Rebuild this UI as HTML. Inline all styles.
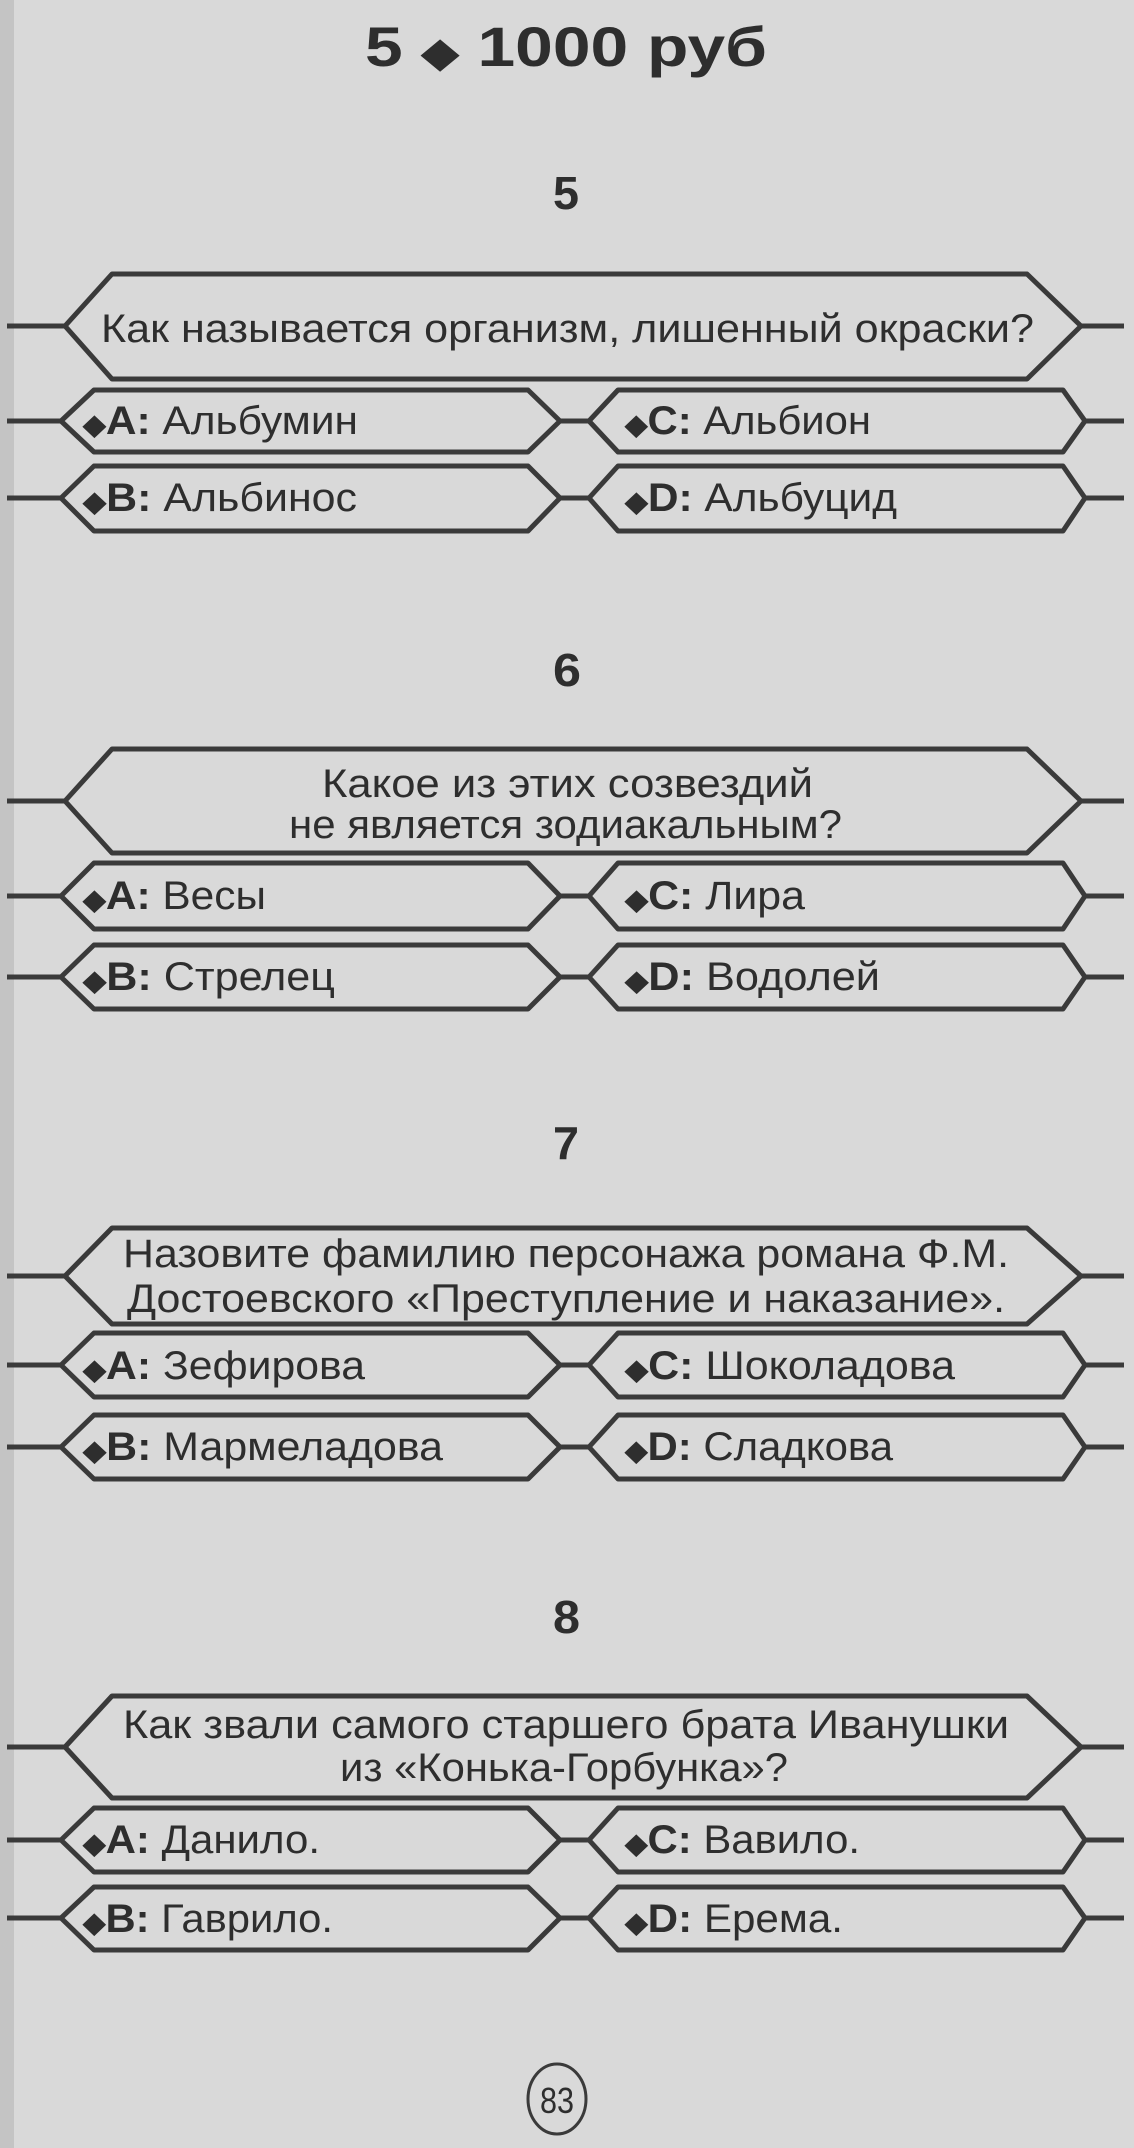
<!DOCTYPE html>
<html><head><meta charset="utf-8"><style>
html,body{margin:0;padding:0;background:#d8d8d8;}
svg{display:block;}
text{font-family:"Liberation Sans",sans-serif;fill:#2e2e2e;}
.b{font-weight:bold;}
.d{font-size:28px;}
</style></head><body>
<svg width="1134" height="2148" viewBox="0 0 1134 2148" xmlns="http://www.w3.org/2000/svg">
<rect width="1134" height="2148" fill="#d9d9d9"/>
<rect width="14" height="2148" fill="#c4c4c4"/>
<g fill="none" stroke="#3a3a3a" stroke-width="5" stroke-linejoin="round">
<path d="M7,326 H65 L112,274 H1027 L1081,326 H1124 M65,326 L112,379 H1027 L1081,326"/>
<path d="M7,421 H61 L94,390 H528 L560,421 H589 L618,390 H1063 L1085,421 H1124 M61,421 L94,452 H528 L560,421 M589,421 L618,452 H1063 L1085,421"/>
<path d="M7,498 H61 L94,466 H528 L560,498 H589 L618,466 H1063 L1085,498 H1124 M61,498 L94,531 H528 L560,498 M589,498 L618,531 H1063 L1085,498"/>
<path d="M7,801 H65 L112,749 H1027 L1081,801 H1124 M65,801 L112,853 H1027 L1081,801"/>
<path d="M7,896 H61 L94,863 H528 L560,896 H589 L618,863 H1063 L1085,896 H1124 M61,896 L94,929 H528 L560,896 M589,896 L618,929 H1063 L1085,896"/>
<path d="M7,977 H61 L94,945 H528 L560,977 H589 L618,945 H1063 L1085,977 H1124 M61,977 L94,1009 H528 L560,977 M589,977 L618,1009 H1063 L1085,977"/>
<path d="M7,1276 H65 L112,1228 H1027 L1081,1276 H1124 M65,1276 L112,1324 H1027 L1081,1276"/>
<path d="M7,1365 H61 L94,1333 H528 L560,1365 H589 L618,1333 H1063 L1085,1365 H1124 M61,1365 L94,1397 H528 L560,1365 M589,1365 L618,1397 H1063 L1085,1365"/>
<path d="M7,1447 H61 L94,1415 H528 L560,1447 H589 L618,1415 H1063 L1085,1447 H1124 M61,1447 L94,1479 H528 L560,1447 M589,1447 L618,1479 H1063 L1085,1447"/>
<path d="M7,1747 H65 L112,1696 H1027 L1081,1747 H1124 M65,1747 L112,1798 H1027 L1081,1747"/>
<path d="M7,1840 H61 L94,1808 H528 L560,1840 H589 L618,1808 H1063 L1085,1840 H1124 M61,1840 L94,1872 H528 L560,1840 M589,1840 L618,1872 H1063 L1085,1840"/>
<path d="M7,1918 H61 L94,1887 H528 L560,1918 H589 L618,1887 H1063 L1085,1918 H1124 M61,1918 L94,1950 H528 L560,1918 M589,1918 L618,1950 H1063 L1085,1918"/>
<ellipse cx="557" cy="2099" rx="29" ry="35" stroke-width="3"/>
</g>
<text x="365" y="66" font-size="56" class="b" textLength="402" lengthAdjust="spacingAndGlyphs">5 <tspan font-size="40">◆</tspan> 1000 руб</text>
<text x="553" y="209" font-size="46" class="b" textLength="26" lengthAdjust="spacingAndGlyphs">5</text>
<text x="553" y="686" font-size="46" class="b" textLength="28" lengthAdjust="spacingAndGlyphs">6</text>
<text x="553" y="1159" font-size="46" class="b" textLength="26" lengthAdjust="spacingAndGlyphs">7</text>
<text x="553" y="1633" font-size="46" class="b" textLength="27" lengthAdjust="spacingAndGlyphs">8</text>

<g font-size="40">
<text x="101" y="342" textLength="933" lengthAdjust="spacingAndGlyphs">Как называется организм, лишенный окраски?</text>
<text x="83" y="434" textLength="275" lengthAdjust="spacingAndGlyphs"><tspan class="b"><tspan class="d">◆</tspan>A:</tspan> Альбумин</text>
<text x="625" y="434" textLength="246" lengthAdjust="spacingAndGlyphs"><tspan class="b"><tspan class="d">◆</tspan>C:</tspan> Альбион</text>
<text x="83" y="511" textLength="274" lengthAdjust="spacingAndGlyphs"><tspan class="b"><tspan class="d">◆</tspan>B:</tspan> Альбинос</text>
<text x="625" y="511" textLength="272" lengthAdjust="spacingAndGlyphs"><tspan class="b"><tspan class="d">◆</tspan>D:</tspan> Альбуцид</text>

<text x="322" y="797" textLength="491" lengthAdjust="spacingAndGlyphs">Какое из этих созвездий</text>
<text x="289" y="838" textLength="553" lengthAdjust="spacingAndGlyphs">не является зодиакальным?</text>
<text x="83" y="909" textLength="183" lengthAdjust="spacingAndGlyphs"><tspan class="b"><tspan class="d">◆</tspan>A:</tspan> Весы</text>
<text x="625" y="909" textLength="180" lengthAdjust="spacingAndGlyphs"><tspan class="b"><tspan class="d">◆</tspan>C:</tspan> Лира</text>
<text x="83" y="990" textLength="252" lengthAdjust="spacingAndGlyphs"><tspan class="b"><tspan class="d">◆</tspan>B:</tspan> Стрелец</text>
<text x="625" y="990" textLength="255" lengthAdjust="spacingAndGlyphs"><tspan class="b"><tspan class="d">◆</tspan>D:</tspan> Водолей</text>

<text x="123" y="1267" textLength="886" lengthAdjust="spacingAndGlyphs">Назовите фамилию персонажа романа Ф.М.</text>
<text x="127" y="1312" textLength="878" lengthAdjust="spacingAndGlyphs">Достоевского «Преступление и наказание».</text>
<text x="83" y="1379" textLength="282" lengthAdjust="spacingAndGlyphs"><tspan class="b"><tspan class="d">◆</tspan>A:</tspan> Зефирова</text>
<text x="625" y="1379" textLength="330" lengthAdjust="spacingAndGlyphs"><tspan class="b"><tspan class="d">◆</tspan>C:</tspan> Шоколадова</text>
<text x="83" y="1460" textLength="360" lengthAdjust="spacingAndGlyphs"><tspan class="b"><tspan class="d">◆</tspan>B:</tspan> Мармеладова</text>
<text x="625" y="1460" textLength="268" lengthAdjust="spacingAndGlyphs"><tspan class="b"><tspan class="d">◆</tspan>D:</tspan> Сладкова</text>

<text x="123" y="1738" textLength="886" lengthAdjust="spacingAndGlyphs">Как звали самого старшего брата Иванушки</text>
<text x="340" y="1781" textLength="448" lengthAdjust="spacingAndGlyphs">из «Конька-Горбунка»?</text>
<text x="83" y="1853" textLength="237" lengthAdjust="spacingAndGlyphs"><tspan class="b"><tspan class="d">◆</tspan>A:</tspan> Данило.</text>
<text x="625" y="1853" textLength="235" lengthAdjust="spacingAndGlyphs"><tspan class="b"><tspan class="d">◆</tspan>C:</tspan> Вавило.</text>
<text x="83" y="1932" textLength="250" lengthAdjust="spacingAndGlyphs"><tspan class="b"><tspan class="d">◆</tspan>B:</tspan> Гаврило.</text>
<text x="625" y="1932" textLength="218" lengthAdjust="spacingAndGlyphs"><tspan class="b"><tspan class="d">◆</tspan>D:</tspan> Ерема.</text>
</g>
<text x="540" y="2113" font-size="36" textLength="34" lengthAdjust="spacingAndGlyphs">83</text>
</svg>
</body></html>
